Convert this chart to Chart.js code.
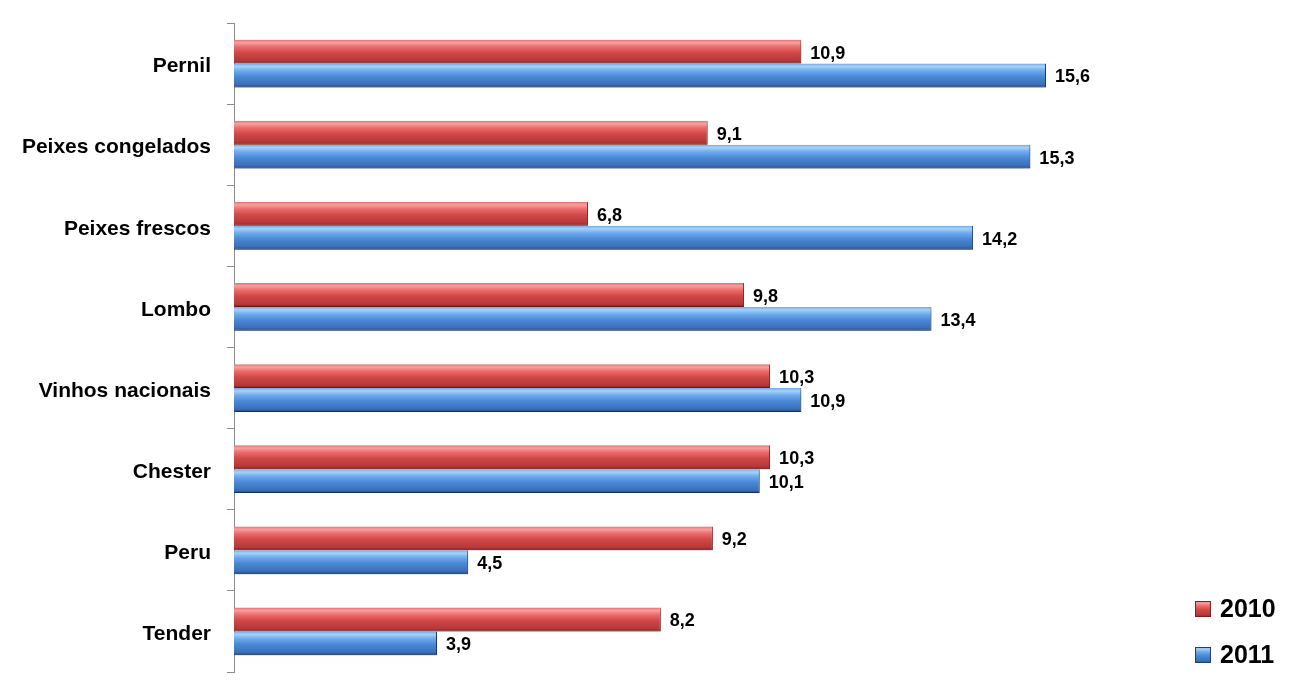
<!DOCTYPE html>
<html>
<head>
<meta charset="utf-8">
<script src="https://cdn.jsdelivr.net/npm/chart.js@4/dist/chart.umd.min.js"></script>
<style>
  html, body { margin: 0; padding: 0; background: #fff; }
  #wrap { width: 1313px; height: 696px; position: relative; }
</style>
</head>
<body>
<div id="wrap"><canvas id="chart"></canvas></div>
<script>
// ─── Data ────────────────────────────────────────────
const categories = ['Pernil', 'Peixes congelados', 'Peixes frescos', 'Lombo',
                    'Vinhos nacionais', 'Chester', 'Peru', 'Tender'];
const values2010 = [10.9, 9.1, 6.8, 9.8, 10.3, 10.3, 9.2, 8.2];
const values2011 = [15.6, 15.3, 14.2, 13.4, 10.9, 10.1, 4.5, 3.9];
const seriesLabels = ['2010', '2011'];

const FONT = '"Liberation Sans", Arial, sans-serif';

// bar palettes: highlight, light, body, dark, edge
const RED = ['#f7a0a0', '#ee6b6b', '#d04848', '#b53838', '#7e2222'];
const BLUE = ['#a6d2fa', '#6eaaee', '#4a88d6', '#3a6fb6', '#223f70'];

function barGradient(c, y0, y1, pal) {
    const g = c.createLinearGradient(0, y0, 0, y1);
    g.addColorStop(0, pal[1]);
    g.addColorStop(0.12, pal[0]);
    g.addColorStop(0.3, pal[1]);
    g.addColorStop(0.55, pal[2]);
    g.addColorStop(0.88, pal[3]);
    g.addColorStop(1, pal[4]);
    return g;
}

// gradient fill per bar + soft drop shadow
const gradientPlugin = {
    id: 'gradientBars',
    beforeDatasetsDraw(chart) {
        const c = chart.ctx;
        chart.data.datasets.forEach((ds, i) => {
            const pal = i === 0 ? RED : BLUE;
            chart.getDatasetMeta(i).data.forEach(bar => {
                const h = bar.height;
                bar.options = Object.assign({}, bar.options, {
                    backgroundColor: barGradient(c, bar.y - h / 2, bar.y + h / 2, pal)
                });
            });
        });
        c.save();
        c.shadowColor = 'rgba(0,0,0,0.28)';
        c.shadowBlur = 4;
        c.shadowOffsetY = 3;
        c.shadowOffsetX = 1;
    },
    afterDatasetsDraw(chart) {
        chart.ctx.restore();
    }
};

// value labels after the bar end
const labelPlugin = {
    id: 'valueLabels',
    afterDatasetsDraw(chart) {
        const c = chart.ctx;
        c.save();
        c.shadowColor = 'transparent';
        c.font = 'bold 18px ' + FONT;
        c.fillStyle = '#000';
        c.textAlign = 'left';
        c.textBaseline = 'middle';
        chart.data.datasets.forEach((ds, i) => {
            chart.getDatasetMeta(i).data.forEach((bar, j) => {
                const txt = ds.data[j].toFixed(1).replace('.', ',');
                c.fillText(txt, bar.x + 9, bar.y + 2);
            });
        });
        c.restore();
    }
};

// legend in the bottom-right corner
const legendPlugin = {
    id: 'cornerLegend',
    afterDraw(chart) {
        const c = chart.ctx;
        c.save();
        c.font = 'bold 25px ' + FONT;
        c.textBaseline = 'middle';
        c.textAlign = 'left';
        const pals = [RED, BLUE];
        seriesLabels.forEach((lbl, i) => {
            const y = 609 + i * 46;
            c.fillStyle = barGradient(c, y - 8, y + 8, pals[i]);
            c.fillRect(1195, y - 8, 16, 16);
            c.strokeStyle = pals[i][4];
            c.lineWidth = 1;
            c.strokeRect(1195.5, y - 7.5, 15, 15);
            c.fillStyle = '#000';
            c.fillText(lbl, 1220, y + 1);
        });
        c.restore();
    }
};

new Chart(document.getElementById('chart'), {
    type: 'bar',
    data: {
        labels: categories,
        datasets: [
            { label: seriesLabels[0], data: values2010, backgroundColor: RED[2],
              borderColor: RED[4], borderWidth: { right: 1, bottom: 1 }, borderSkipped: false },
            { label: seriesLabels[1], data: values2011, backgroundColor: BLUE[2],
              borderColor: BLUE[4], borderWidth: { right: 1, bottom: 1 }, borderSkipped: false }
        ]
    },
    options: {
        indexAxis: 'y',
        responsive: true,
        maintainAspectRatio: false,
        animation: false,
        categoryPercentage: 0.59,
        barPercentage: 1.0,
        layout: { padding: { top: 23, bottom: 24, left: 0, right: 38 } },
        plugins: {
            legend: { display: false },
            tooltip: { enabled: false }
        },
        scales: {
            x: {
                display: false,
                min: 0,
                max: 20
            },
            y: {
                afterFit: (scale) => {
                    scale.width = 234;
                    scale.paddingTop = 0;
                    scale.paddingBottom = 0;
                },
                border: { display: true, color: '#8c8c8c', width: 1 },
                grid: {
                    drawOnChartArea: false,
                    drawTicks: true,
                    tickLength: 7,
                    color: '#8c8c8c',
                    offset: true
                },
                ticks: {
                    color: '#000',
                    padding: 16,
                    labelOffset: 3,
                    font: { family: FONT, size: 21, weight: 'bold' }
                }
            }
        }
    },
    plugins: [gradientPlugin, labelPlugin, legendPlugin]
});
</script>
</body>
</html>
